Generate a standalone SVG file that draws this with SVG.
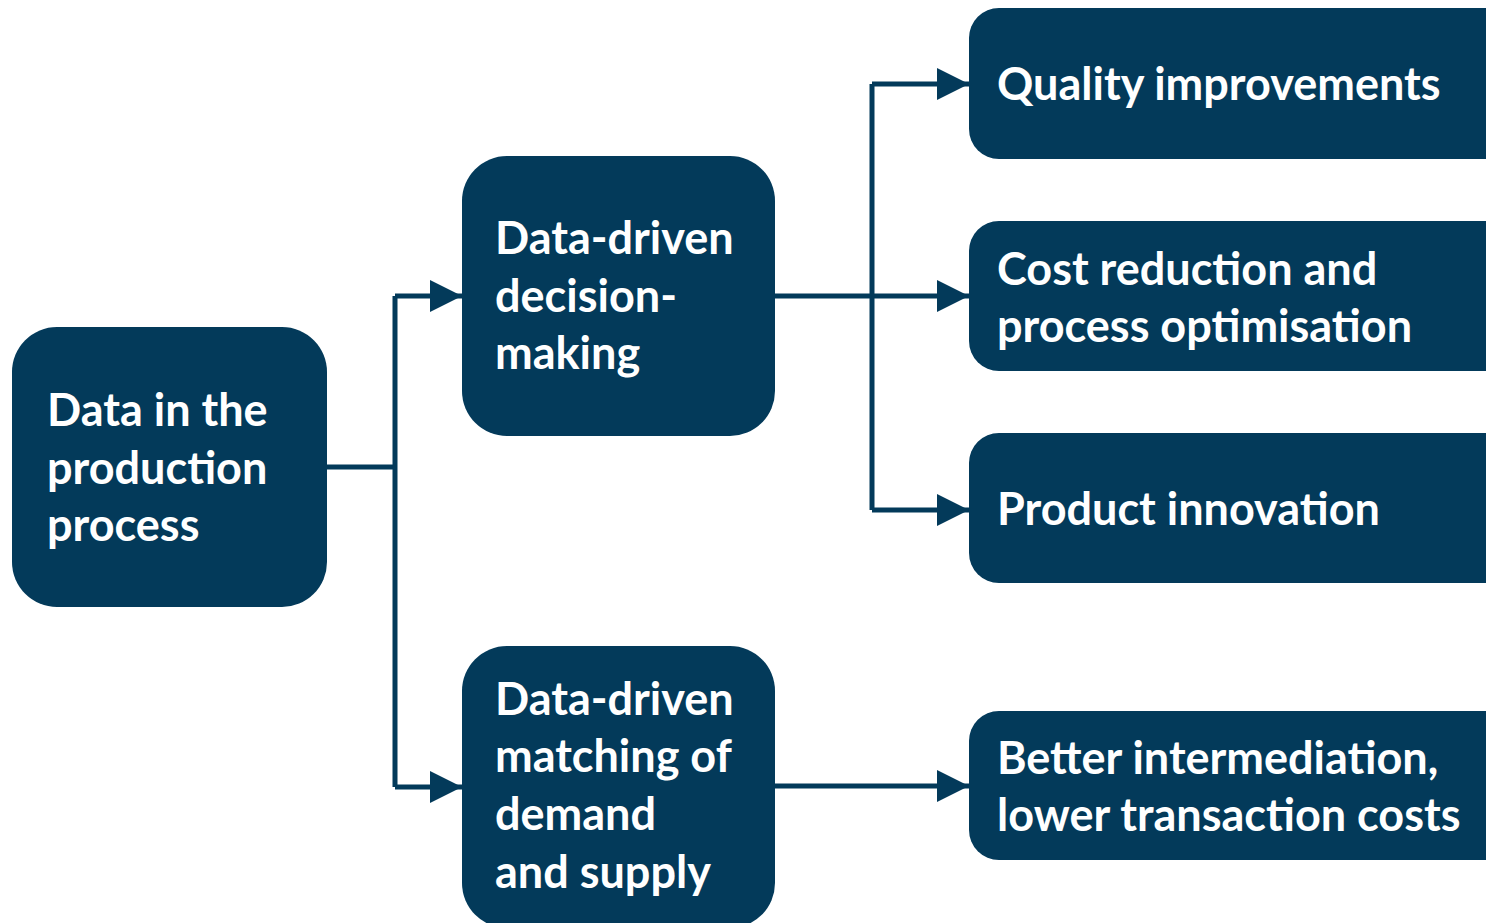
<svg xmlns="http://www.w3.org/2000/svg" width="1486" height="923" viewBox="0 0 1486 923">
<defs>
<style>
.box{fill:#033a5a;}
.lbl{fill:#ffffff;font-family:Lato,"Open Sans","Liberation Sans",sans-serif;font-weight:bold;font-size:45px;}
.con{fill:none;stroke:#033a5a;stroke-width:5;}
</style>
<marker id="arr" markerUnits="userSpaceOnUse" markerWidth="32" markerHeight="32" viewBox="0 0 30 30" refX="30" refY="15" orient="auto">
<path d="M0,0 L30,15 L0,30 Z" fill="#033a5a"/>
</marker>
</defs>
<rect width="1486" height="923" fill="#ffffff"/>
<g id="connectors">
<path class="con" d="M327,467 H395"/>
<path class="con" d="M395,296 V787"/>
<path class="con" d="M395,296 H462" marker-end="url(#arr)"/>
<path class="con" d="M395,787 H462" marker-end="url(#arr)"/>
<path class="con" d="M775,296 H969" marker-end="url(#arr)"/>
<path class="con" d="M872,84 V510"/>
<path class="con" d="M872,84 H969" marker-end="url(#arr)"/>
<path class="con" d="M872,510 H969" marker-end="url(#arr)"/>
<path class="con" d="M775,786 H969" marker-end="url(#arr)"/>
</g>
<g id="n-data">
<rect class="box" x="12" y="327" width="315" height="280" rx="45"/>
<text class="lbl" x="47" y="426">Data in the</text>
<text class="lbl" x="47" y="484">production</text>
<text class="lbl" x="47" y="541">process</text>
</g>
<g id="n-decision">
<rect class="box" x="462" y="156" width="313" height="280" rx="45"/>
<text class="lbl" x="495" y="254">Data-driven</text>
<text class="lbl" x="495" y="312">decision-</text>
<text class="lbl" x="495" y="369">making</text>
</g>
<g id="n-matching">
<rect class="box" x="462" y="646" width="313" height="282" rx="45"/>
<text class="lbl" x="495" y="715">Data-driven</text>
<text class="lbl" x="495" y="772">matching of</text>
<text class="lbl" x="495" y="830">demand</text>
<text class="lbl" x="495" y="888">and supply</text>
</g>
<g id="n-quality">
<rect class="box" x="969" y="8" width="560" height="151" rx="30"/>
<text class="lbl" x="997" y="100">Quality improvements</text>
</g>
<g id="n-cost">
<rect class="box" x="969" y="221" width="560" height="150" rx="30"/>
<text class="lbl" x="997" y="285">Cost reduction and</text>
<text class="lbl" x="997" y="342">process optimisation</text>
</g>
<g id="n-product">
<rect class="box" x="969" y="433" width="560" height="150" rx="30"/>
<text class="lbl" x="997" y="525">Product innovation</text>
</g>
<g id="n-better">
<rect class="box" x="969" y="711" width="560" height="149" rx="30"/>
<text class="lbl" x="997" y="774">Better intermediation,</text>
<text class="lbl" x="997" y="831">lower transaction costs</text>
</g>
</svg>
